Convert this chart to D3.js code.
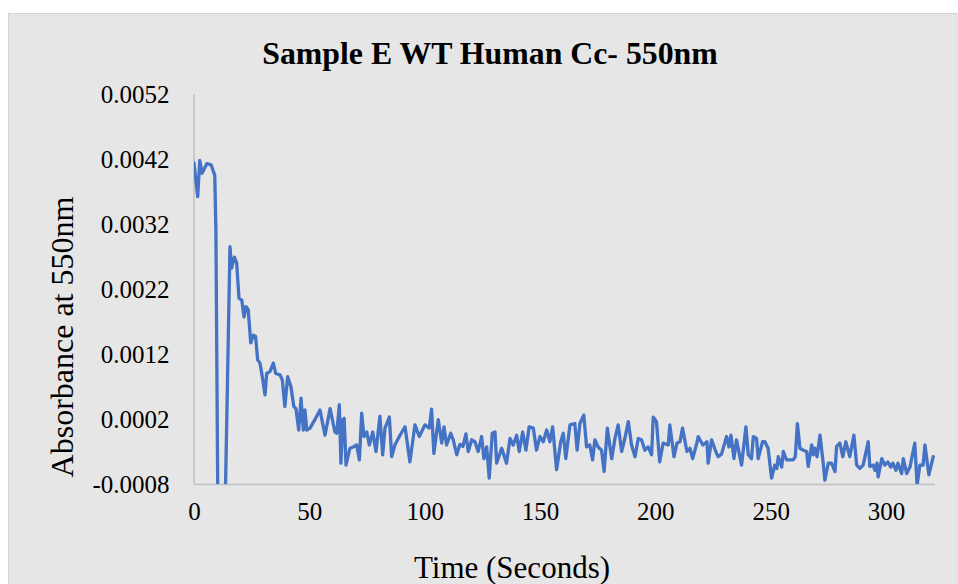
<!DOCTYPE html>
<html><head><meta charset="utf-8">
<script src="https://cdn.jsdelivr.net/npm/d3@7"></script>
<style>html,body{margin:0;padding:0;background:#fff;}svg{display:block;}</style>
</head><body>
<svg id="chart" width="958" height="584"></svg>
<script>
const title = "Sample E WT Human Cc- 550nm";
const xLabel = "Time (Seconds)";
const yLabel = "Absorbance at 550nm";
const xTicks = [0, 50, 100, 150, 200, 250, 300];
const yTicks = [-0.0008, 0.0002, 0.0012, 0.0022, 0.0032, 0.0042, 0.0052];
const xMax = 321;

const time = [0,1.6,2.5,3.5,5.6,7.4,9.0,9.5,10.6,11.7,12.8,15.6,16.3,17.5,18.5,19.5,20.7,21.7,22.5,23.5,24.6,25.7,26.7,27.6,28.6,29.6,30.8,31.5,32.9,34.4,35.4,37.3,38.3,39.4,40.6,42.0,43.3,44.2,45.4,46.4,47.4,48.1,48.9,50.3,52.4,54.6,56.8,59.0,61.1,61.9,63.0,63.7,64.5,65.1,65.9,67.6,69.1,70.5,71.7,72.7,73.7,74.9,76.0,77.5,78.9,80.6,81.8,82.8,84.7,85.7,87.1,89.3,91.5,93.6,95.8,97.7,100.1,102.0,103.0,104.0,105.9,107.4,108.4,109.5,111.3,112.4,113.9,115.3,116.6,117.9,118.9,120.4,121.8,123.2,124.7,125.7,126.9,128.0,129.3,130.5,131.2,133.4,135.5,137.0,138.4,139.9,141.0,142.5,143.9,145.3,147.1,148.5,150.0,151.4,152.9,154.3,155.5,157.2,159.0,160.1,161.2,163.0,165.1,166.1,167.3,169.0,170.2,171.6,172.8,173.8,175.2,176.7,177.8,179.2,181.1,182.5,183.9,185.4,186.8,188.3,189.7,191.2,192.6,194.0,195.5,196.9,198.4,199.1,200.5,201.9,203.4,205.6,206.3,208.1,209.4,210.7,211.8,213.7,215.0,216.2,218.0,218.6,220.6,222.4,222.9,224.4,226.2,227.2,228.7,230.9,231.9,232.8,234.1,235.2,237.4,239.3,240.3,241.7,242.5,243.9,244.6,246.5,247.5,248.9,250.4,251.8,252.7,253.3,254.8,255.5,256.9,258.4,259.8,260.7,261.6,262.7,264.1,265.6,266.3,267.8,268.5,269.2,270.1,271.4,272.8,273.5,275.0,276.4,277.9,278.6,280.0,281.3,282.6,284.3,286.1,287.3,288.7,290.1,292.3,293.0,294.5,295.2,296.1,296.6,298.2,299.5,300.8,302.1,303.0,304.3,305.2,306.8,307.5,309.0,310.4,312.5,313.5,314.7,316.1,316.9,318.6,320.5];
const absorbance = [0.00414,0.00362,0.00418,0.00398,0.00413,0.00411,0.00395,0.00311,-0.0025,-0.003,-0.0025,0.00285,0.00252,0.00269,0.00260,0.00206,0.00203,0.00177,0.00193,0.00188,0.00137,0.00149,0.00147,0.00111,0.00106,0.00085,0.00057,0.00090,0.00093,0.00106,0.00090,0.00088,0.00080,0.00039,0.00085,0.00070,0.00039,0.00036,0.00003,0.00052,0.00003,0.00034,0.00003,0.00006,0.00019,0.00034,-0.00005,0.00036,0.00000,-0.00002,0.00042,-0.00048,0.00019,0.00021,-0.00051,-0.00025,-0.00023,-0.00020,-0.00043,0.00029,-0.00007,0.00000,-0.00020,0.00000,-0.00030,0.00024,-0.00035,0.00006,0.00023,-0.00038,-0.00020,-0.00005,0.00008,-0.00046,0.00011,-0.00007,0.00011,0.00006,0.00035,-0.00033,0.00019,-0.00017,0.00008,-0.00020,-0.00002,-0.00012,-0.00035,-0.00019,-0.00022,-0.00003,-0.00030,-0.00012,-0.00015,-0.00030,-0.00007,-0.00041,-0.00023,-0.00071,-0.00002,0.00000,-0.00048,-0.00025,-0.00048,-0.00010,-0.00020,-0.00005,-0.00030,0.00000,-0.00028,0.00008,0.00006,-0.00028,-0.00007,-0.00015,0.00003,-0.00015,0.00008,-0.00058,-0.00015,-0.00002,-0.00041,0.00011,0.00013,-0.00028,0.00013,0.00026,-0.00023,-0.00020,-0.00043,-0.00012,-0.00023,-0.00028,-0.00061,0.00006,-0.00041,-0.00010,0.00011,-0.00030,-0.00010,0.00016,-0.00020,-0.00038,-0.00010,-0.00012,-0.00028,-0.00023,-0.00035,0.00023,0.00016,-0.00046,-0.00017,-0.00020,0.00011,-0.00038,-0.00017,-0.00015,0.00006,-0.00030,-0.00025,-0.00041,-0.00017,-0.00007,-0.00020,-0.00015,-0.00048,-0.00012,-0.00030,-0.00038,-0.00034,-0.00007,-0.00023,-0.00005,-0.00041,-0.00012,-0.00051,0.00008,-0.00035,-0.00041,-0.00007,-0.00010,-0.00041,-0.00015,-0.00015,-0.00025,-0.00071,-0.00051,-0.00056,-0.00038,-0.00054,-0.00030,-0.00043,-0.00043,-0.00043,-0.00038,0.00013,-0.00025,-0.00028,-0.00030,-0.00053,-0.00020,-0.00035,-0.00025,-0.00038,-0.00005,-0.00048,-0.00074,-0.00048,-0.00048,-0.00061,-0.00022,-0.00017,-0.00038,-0.00015,-0.00038,-0.00005,-0.00051,-0.00056,-0.00051,-0.00015,-0.00053,-0.00051,-0.00059,-0.00048,-0.00069,-0.00041,-0.00051,-0.00046,-0.00054,-0.00048,-0.00059,-0.00048,-0.00064,-0.00041,-0.00064,-0.00054,-0.00017,-0.00082,-0.00051,-0.00051,-0.00020,-0.00066,-0.00038];

const data = time.map((t, i) => ({t, v: absorbance[i]}));

const svg = d3.select("#chart");
const W = 958, H = 584;
const plot = {left: 194, right: 934.4, top: 94, bottom: 484};
const serif = "'Liberation Serif','Times New Roman',serif";

svg.append("rect").attr("x", 8.5).attr("y", 13.5).attr("width", 948.5).attr("height", H)
  .attr("fill", "#e6e6e6").attr("stroke", "#d4d4d4").attr("stroke-width", 1);

const x = d3.scaleLinear().domain([0, xMax]).range([plot.left, plot.right]);
const y = d3.scaleLinear().domain([yTicks[0], yTicks[yTicks.length - 1]]).range([plot.bottom, plot.top]);

svg.append("text").attr("x", 490).attr("y", 64).attr("text-anchor", "middle")
  .attr("font-family", serif).attr("font-weight", "bold")
  .attr("font-size", 31.8).attr("fill", "#000").text(title);

const yAxis = d3.axisLeft(y).tickValues(yTicks).tickSize(0).tickPadding(24)
  .tickFormat(d => d3.format(".4f")(d).replace("−", "-"));
const gy = svg.append("g").attr("transform", `translate(${plot.left - 0.5},0)`).call(yAxis);
gy.select(".domain").attr("stroke", "#bfbfbf").attr("stroke-width", 1.5);
gy.selectAll("text").attr("font-family", serif)
  .attr("font-size", 25).attr("fill", "#000").attr("dy", "0.34em");

const xAxis = d3.axisBottom(x).tickValues(xTicks).tickSize(0).tickPadding(18).tickFormat(d3.format("d"));
const gx = svg.append("g").attr("transform", `translate(0,${plot.bottom})`).call(xAxis);
gx.select(".domain").attr("stroke", "#bfbfbf").attr("stroke-width", 1.5);
gx.selectAll("text").attr("font-family", serif)
  .attr("font-size", 25).attr("fill", "#000");

svg.append("defs").append("clipPath").attr("id", "clip").append("rect")
  .attr("x", plot.left).attr("y", 0).attr("width", plot.right - plot.left + 5).attr("height", plot.bottom);

const line = d3.line().x(d => x(d.t)).y(d => y(d.v));
svg.append("path").datum(data).attr("clip-path", "url(#clip)")
  .attr("fill", "none").attr("stroke", "#4472c4").attr("stroke-width", 3.3)
  .attr("stroke-linejoin", "round").attr("stroke-linecap", "round").attr("d", line);

svg.append("text").attr("x", 512).attr("y", 578).attr("text-anchor", "middle")
  .attr("font-family", serif).attr("font-size", 31).attr("fill", "#000").text(xLabel);

svg.append("text").attr("transform", `translate(73,337) rotate(-90)`).attr("text-anchor", "middle")
  .attr("font-family", serif).attr("font-size", 32).attr("fill", "#000").text(yLabel);
</script>
</body></html>
